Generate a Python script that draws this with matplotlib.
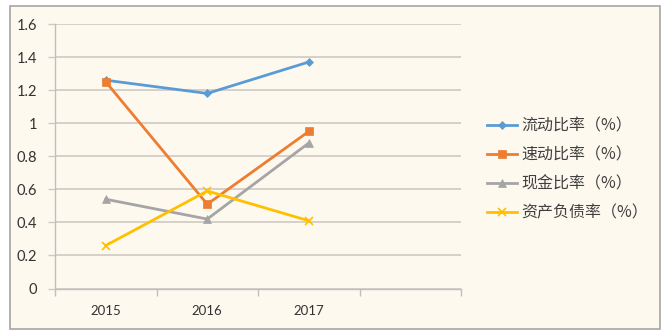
import matplotlib
matplotlib.use("Agg")
import matplotlib.pyplot as plt
from matplotlib.patches import Rectangle
from matplotlib.ticker import FixedLocator, NullFormatter

plt.rcParams['font.family'] = ['Noto Sans CJK SC', 'DejaVu Sans']

years = ["2015", "2016", "2017"]
n_slots = 4  # category axis keeps one empty slot on the right

current_ratio = [1.26, 1.18, 1.37]
quick_ratio = [1.25, 0.51, 0.95]
cash_ratio = [0.54, 0.42, 0.88]
debt_ratio = [0.26, 0.59, 0.41]

series = [
    ("流动比率（%）", current_ratio, "#5B9BD5", "D", 4.5),
    ("速动比率（%）", quick_ratio, "#ED7D31", "s", 6),
    ("现金比率（%）", cash_ratio, "#A5A5A5", "^", 6),
    ("资产负债率（%）", debt_ratio, "#FFC000", "x", 6),
]

W, H = 668, 336
fig = plt.figure(figsize=(W / 100, H / 100), dpi=100)
fig.patch.set_facecolor("white")

# chart area frame
fig.patches.append(Rectangle((10 / W, 1 - 329 / H), 650 / W, 323 / H,
                             transform=fig.transFigure, facecolor="#FEF9EF",
                             edgecolor="#A6A6A6", linewidth=1.2, zorder=-5))

ax = fig.add_axes([55 / W, 1 - 288.5 / H, 406 / W, 264.5 / H])
ax.set_facecolor("none")
ax.set_zorder(2)

x = list(range(len(years)))
for label, vals, color, marker, ms in series:
    ax.plot(x, vals, color=color, linewidth=2, marker=marker, markersize=ms,
            markeredgewidth=1.2 if marker == "x" else 0.5, label=label,
            clip_on=False)

ax.set_xlim(-0.5, n_slots - 0.5)
ax.set_ylim(0, 1.6)
ax.set_yticks([i * 0.2 for i in range(9)])
ax.set_yticklabels(["0", "0.2", "0.4", "0.6", "0.8", "1", "1.2", "1.4", "1.6"])
ax.yaxis.grid(True, color="#CFCBC3", linewidth=1.2)
ax.set_axisbelow(True)

ax.set_xticks(x)
ax.set_xticklabels(years)
ax.xaxis.set_minor_locator(FixedLocator([i - 0.5 for i in range(n_slots + 1)]))
ax.xaxis.set_minor_formatter(NullFormatter())
ax.tick_params(axis="x", which="major", length=0, pad=12, labelsize=9.5,
               labelcolor="#333333")
ax.tick_params(axis="x", which="minor", length=5, color="#BFBFBF", width=1)
ax.tick_params(axis="y", length=5, color="#CFCBC3", width=1, pad=8,
               labelsize=10.5, labelcolor="#333333")
for lab in ax.get_yticklabels() + ax.get_xticklabels():
    lab.set_family(["Lato", "DejaVu Sans"])

for side in ("top", "right"):
    ax.spines[side].set_visible(False)
for side in ("left", "bottom"):
    ax.spines[side].set_color("#BFBFBF")
    ax.spines[side].set_linewidth(1)

leg = fig.legend(loc="upper left", bbox_to_anchor=(473 / W, 1 - 103 / H),
                 frameon=False, fontsize=11.5, handlelength=1.85,
                 handletextpad=0.3, labelspacing=0.75, labelcolor="#404040")

fig.savefig("out.png", dpi=100, facecolor="white")
